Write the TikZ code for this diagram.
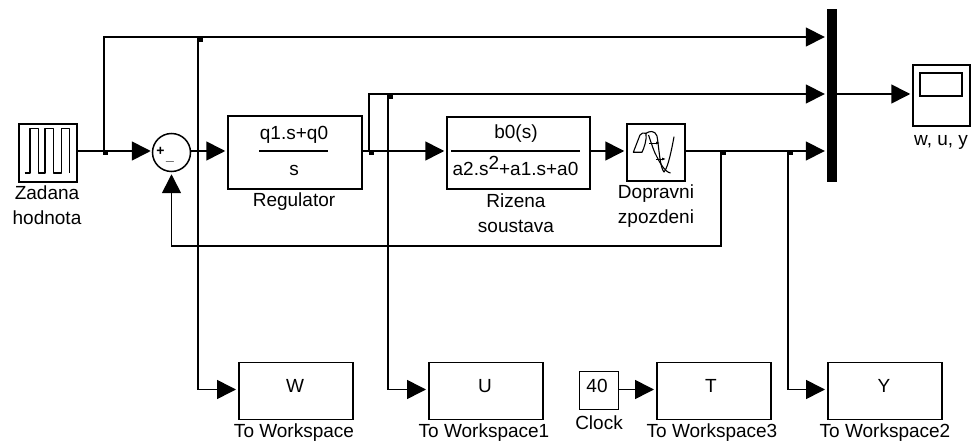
\documentclass[tikz,border=0pt]{standalone}
\usepackage{fontspec}
\setmainfont{Liberation Sans}
\usetikzlibrary{arrows.meta}
\tikzset{
 x=1pt,y=-1pt,
 wire/.style={line width=1.6pt,black},
 sig/.style={wire,-{Triangle[length=19pt,width=19pt,sep=2pt]}},
 sigin/.style={wire,-{Triangle[length=19pt,width=19pt,sep=1pt]}},
 wsblock/.style={draw,line width=1.5pt,minimum width=114pt,minimum height=57pt,inner sep=0pt,anchor=north west},
 txt/.style={font=\fontsize{19}{19}\selectfont,inner sep=0pt,anchor=base},
 jun/.style={fill=black,inner sep=0pt,minimum size=5pt},
 icon/.style={line width=1.1pt,line join=round},
}
\begin{document}
\begin{tikzpicture}
\useasboundingbox (0,0) rectangle (972,443);
% blocks
\node[draw,line width=1.5pt,minimum width=58pt,minimum height=58pt,inner sep=0pt] (src) at (48,153) {};
\draw[line width=1.3pt,line join=round] (24.5,173)--(30,173)--(30,128.5)--(38.5,128.5)--(38.5,173)--(45,173)--(45,128.5)--(53.5,128.5)--(53.5,173)--(61.5,173)--(61.5,128.5)--(69.5,128.5)--(69.5,173);
\node[txt] (srcl1) at (47,200) {Zadana};
\node[txt] (srcl2) at (47,225) {hodnota};
\node[circle,draw,line width=1.5pt,minimum size=38pt,inner sep=0pt] (sum) at (171.5,152.5) {};
\node[font=\fontsize{14}{14}\selectfont\bfseries,inner sep=0pt] (plus) at (160.5,151.5) {+};
\node[font=\fontsize{14}{14}\selectfont\bfseries,inner sep=0pt,anchor=base] (minus) at (170,161) {\_};
\node[draw,line width=1.5pt,minimum width=134pt,minimum height=73pt,inner sep=0pt] (reg) at (295,152.5) {};
\coordinate (regbarL) at (259,151);
\coordinate (regbarR) at (328,151);
\draw[line width=1.3pt] (regbarL)--(regbarR);
\node[txt] (regn) at (294,140) {q1.s+q0};
\node[txt] (regd) at (294,176) {s};
\node[txt] (regl) at (294,207) {Regulator};
\node[draw,line width=1.5pt,minimum width=143pt,minimum height=72pt,inner sep=0pt] (plant) at (518.5,153) {};
\coordinate (plbarL) at (451,151);
\coordinate (plbarR) at (580,151);
\draw[line width=1.3pt] (plbarL)--(plbarR);
\node[txt] (pln) at (516,139) {b0(s)};
\node[txt] (pld) at (515.5,176) {a2.s\raisebox{6pt}{2}+a1.s+a0};
\node[txt] (pll1) at (516,208) {Rizena};
\node[txt] (pll2) at (516,233) {soustava};
\node[draw,line width=1.5pt,minimum width=58pt,minimum height=57pt,inner sep=0pt] (delay) at (656,152.5) {};
\draw[icon] (633.3,152.3) -- (640,135) .. controls (641,133) and (644,132.5) .. (646,133.3) .. controls (647,140) and (644,148) .. (642,152.3) -- cycle;
\draw[icon] (646,133.3) .. controls (649,131) and (655,130) .. (657,136) .. controls (659,148) and (660,168) .. (664,172) .. controls (668,168) and (672,148) .. (674,136.7);
\draw[icon] (648.5,135) .. controls (652,145) and (654,152) .. (657,157) .. controls (660,163) and (665,172) .. (670.5,173);
\draw[-{Latex[length=4pt]},line width=.9pt] (649,143)--(660,143);
\draw[-{Latex[length=4pt]},line width=.9pt] (656,159)--(666,159);
\node[txt] (dl1) at (656,199) {Dopravni};
\node[txt] (dl2) at (656,224) {zpozdeni};
\node[fill=black,minimum width=10pt,minimum height=173pt,inner sep=0pt] (mux) at (832,95.5) {};
\node[draw,line width=1.5pt,minimum width=57pt,minimum height=61pt,inner sep=0pt] (scope) at (941.5,95.5) {};
\node[draw,line width=1.5pt,minimum width=42pt,minimum height=23pt,inner sep=0pt] (screen) at (941,84.5) {};
\node[txt] (scl) at (941,146) {w, u, y};
\node[wsblock] (W) at (238,362) {};
\node[txt] (Wt) at (295,393) {W};
\node[txt] (Wl) at (294,437) {To Workspace};
\node[wsblock] (U) at (428,362) {};
\node[txt] (Ut) at (485,393) {U};
\node[txt] (Ul) at (484,437) {To Workspace1};
\node[draw,line width=1.5pt,minimum width=39pt,minimum height=38pt,inner sep=0pt] (clock) at (599,390.5) {};
\node[txt] (ct) at (597,393) {40};
\node[txt] (cl) at (599,429) {Clock};
\node[wsblock] (T) at (656,362) {};
\node[txt] (Tt) at (711,393) {T};
\node[txt] (Tl) at (712,437) {To Workspace3};
\node[wsblock] (Y) at (827,362) {};
\node[txt] (Yt) at (884,393) {Y};
\node[txt] (Yl) at (885,437) {To Workspace2};
% junctions
\coordinate (j1) at (104,151);
\coordinate (j1b) at (198,37);
\coordinate (j2) at (369,151);
\coordinate (j2b) at (388,94);
\coordinate (j3) at (721,151);
\coordinate (j4) at (788,151);
\node[jun] (d1) at (105,153) {};
\node[jun] (d1b) at (200,39.5) {};
\node[jun] (d2) at (371,153) {};
\node[jun] (d2b) at (390,96.5) {};
\node[jun] (d3) at (723,153) {};
\node[jun] (d4) at (790,153) {};
% connectors
\draw[sigin] (src.east |- j1) -- (sum.west |- j1);
\draw[sig] (sum.east |- j1) -- (reg.west |- j1);
\draw[sig] (reg.east |- j2) -- (plant.west |- j2);
\draw[sig] (plant.east |- j2) -- (delay.west |- j2);
\draw[sig] (delay.east |- j2) -- (mux.west |- j2);
\draw[sig] (j1) -- (j1 |- j1b) -- (mux.west |- j1b);
\draw[sig] (j2) -- (j2 |- j2b) -- (mux.west |- j2b);
\draw[sig] (mux.east |- j2b) -- (scope.west |- j2b);
\draw[sig] (j3) -- (j3 |- 0,246) -- (sum.south |- 0,246) -- (sum.south);
\draw[sig] (j1b) -- (j1b |- 0,389.5) -- (W.west |- 0,389.5);
\draw[sig] (j2b) -- (j2b |- 0,389.5) -- (U.west |- 0,389.5);
\draw[sig] (clock.east |- 0,389.5) -- (T.west |- 0,389.5);
\draw[sig] (j4) -- (j4 |- 0,389.5) -- (Y.west |- 0,389.5);
\end{tikzpicture}
\end{document}
